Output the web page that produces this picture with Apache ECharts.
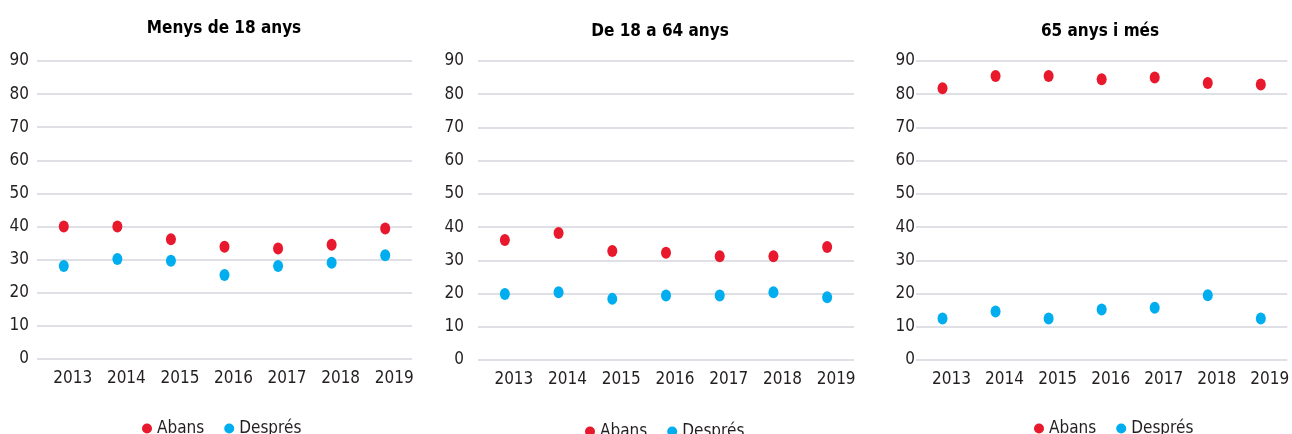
<!DOCTYPE html>
<html><head><meta charset="utf-8">
<script src="https://cdn.jsdelivr.net/npm/echarts@6/dist/echarts.min.js"></script>
<style>html,body{margin:0;padding:0;background:#fff}#c{width:1292px;height:434px}</style>
</head><body><div id="c"></div>
<script>
const categories = ['2013','2014','2015','2016','2017','2018','2019'];
const panelTitles = ['Menys de 18 anys','De 18 a 64 anys','65 anys i més'];
const seriesNames = ['Abans','Després'];
const abansMenys18 = [40.0,40.0,36.2,33.9,33.4,34.5,39.4];
const despresMenys18 = [28.1,30.2,29.7,25.4,28.1,29.1,31.3];
const abans18a64 = [36.1,38.2,32.8,32.3,31.2,31.2,34.0];
const despres18a64 = [19.9,20.4,18.4,19.4,19.4,20.4,18.9];
const abans65 = [81.8,85.5,85.5,84.5,85.0,83.4,82.9];
const despres65 = [12.5,14.6,12.5,15.2,15.7,19.5,12.5];
const yMin = 0, yMax = 90, yInterval = 10;

const FONT = "'DejaVu Sans Condensed','Liberation Sans Narrow',sans-serif";
const RED = '#E8192C', BLUE = '#00AEEF', TXT = '#231F20', GRIDC = '#DFDFE6';
const ELLIPSE = 'path://M0,50a50,50 0 1,0 100,0a50,50 0 1,0 -100,0z';

const panels = [
  {abans: abansMenys18, despres: despresMenys18, grid:{left:37,width:375,top:61,height:298}, ym:8, title:[219,15], legend:[137,415]},
  {abans: abans18a64, despres: despres18a64, grid:{left:478,width:376,top:61,height:299}, ym:14, title:[655,18], legend:[580,418]},
  {abans: abans65, despres: despres65, grid:{left:916,width:375,top:61,height:299}, ym:1, title:[1095,18], legend:[1029,415]}
];

const option = {
  backgroundColor:'#fff',
  animation:false,
  textStyle:{fontFamily:FONT},
  title: panels.map((p,i)=>({text:panelTitles[i], left:p.title[0], top:p.title[1], textAlign:'center',
    textStyle:{fontFamily:FONT, fontWeight:'bold', fontSize:17, color:'#000'}})),
  legend: panels.map(p=>({data:seriesNames, left:p.legend[0], top:p.legend[1], icon:ELLIPSE,
    itemWidth:10, itemHeight:12, itemGap:20, selectedMode:false,
    textStyle:{fontFamily:FONT, fontSize:17, color:TXT}})),
  grid: panels.map(p=>p.grid),
  xAxis: panels.map((p,i)=>({type:'category', gridIndex:i, data:categories, boundaryGap:true,
    axisLine:{show:false}, axisTick:{show:false},
    axisLabel:{interval:0, fontFamily:FONT, fontSize:17, color:TXT, margin:11, padding:[0,0,0,18]}})),
  yAxis: panels.map((p,i)=>({type:'value', gridIndex:i, min:yMin, max:yMax, interval:yInterval,
    axisLine:{show:false}, axisTick:{show:false},
    splitLine:{lineStyle:{color:GRIDC, width:2}},
    axisLabel:{fontFamily:FONT, fontSize:17, color:TXT, margin:p.ym, padding:[0,0,8,0]}})),
  series: panels.flatMap((p,i)=>[
    {name:seriesNames[0], type:'scatter', xAxisIndex:i, yAxisIndex:i, data:p.abans, symbol:ELLIPSE, symbolSize:[10,12], itemStyle:{color:RED, opacity:1}},
    {name:seriesNames[1], type:'scatter', xAxisIndex:i, yAxisIndex:i, data:p.despres, symbol:ELLIPSE, symbolSize:[10,12], itemStyle:{color:BLUE, opacity:1}}
  ])
};
const chart = echarts.init(document.getElementById('c'), null, {renderer:'canvas'});
chart.setOption(option);
</script></body></html>
